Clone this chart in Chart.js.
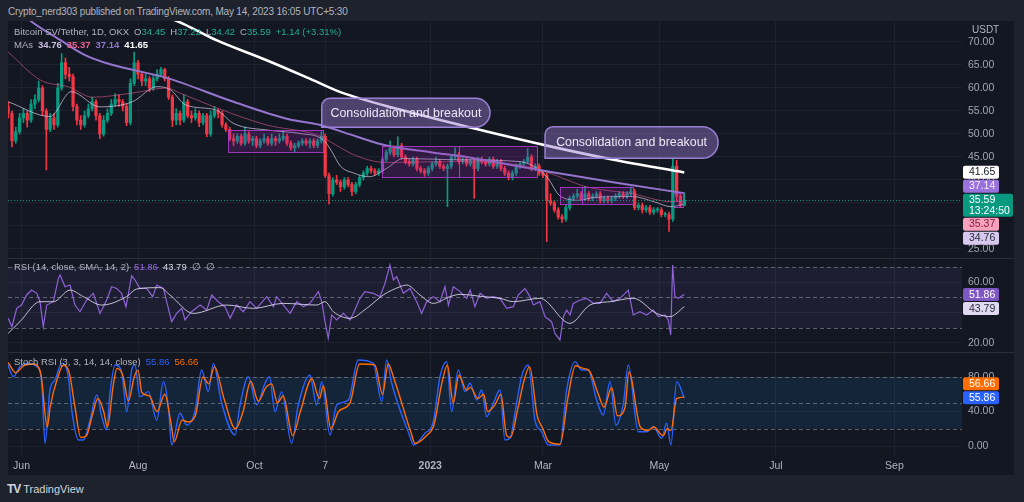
<!DOCTYPE html>
<html><head><meta charset="utf-8">
<script src="https://cdn.jsdelivr.net/npm/chart.js@4/dist/chart.umd.min.js"></script>
<style>
html,body{margin:0;padding:0;background:#1e222d;width:1024px;height:502px;overflow:hidden;font-family:"Liberation Sans",Arial,sans-serif;}
#frame{position:absolute;left:8px;top:21px;width:1006px;height:454px;background:#131722;}
canvas{position:absolute;left:8px;}
.txt{position:absolute;white-space:nowrap;font-size:9.5px;color:#b2b5be;line-height:12px;z-index:5;}
.g{color:#22ab94}.s{margin-left:5px}
.b{font-weight:bold}
</style></head><body>
<div id="frame"></div>
<canvas id="main" width="1006" height="237" style="top:21px"></canvas>
<canvas id="rsi" width="1006" height="94" style="top:258px"></canvas>
<canvas id="stoch" width="1006" height="123" style="top:352px"></canvas>

<div class="txt" style="left:8px;top:6px;font-size:10px;letter-spacing:-0.18px;">Crypto_nerd303 published on TradingView.com, May 14, 2023 16:05 UTC+5:30</div>
<div class="txt" style="left:14px;top:26px;">Bitcoin SV/Tether, 1D, OKX<span class="s">O</span><span class="g">34.45</span><span class="s">H</span><span class="g">37.22</span><span class="s">L</span><span class="g">34.42</span><span class="s">C</span><span class="g">35.59</span><span class="g s">+1.14 (+3.31%)</span></div>
<div class="txt" style="left:14px;top:39px;">MAs<span class="s b" style="color:#c9bfe0">34.76</span><span class="s b" style="color:#f06292">35.37</span><span class="s b" style="color:#9575cd">37.14</span><span class="s b" style="color:#ffffff">41.65</span></div>
<div class="txt" style="left:972px;top:24px;font-size:10px;">USDT</div>
<div class="txt" style="left:14px;top:261px;">RSI (14, close, SMA, 14, 2)<span class="s" style="color:#8e63d6">51.86</span><span class="s" style="color:#d1d4dc">43.79</span><span class="s">∅</span><span class="s">∅</span></div>
<div class="txt" style="left:14px;top:356px;">Stoch RSI (3, 3, 14, 14, close)<span class="s" style="color:#2962ff">55.86</span><span class="s" style="color:#ff6d00">56.66</span></div>
<div class="txt" style="left:7px;top:483px;color:#d1d4dc;font-size:11px;"><span style="font-weight:bold;font-size:12px;letter-spacing:-1px">TV</span> TradingView</div>

<script>
// ---------- DATA ----------
const candleStart = '2022-05-25';
const candleStepDays = 2;
const openP = [56.0,54.5,48.5,50.5,53.5,54.5,53.0,56.5,57.5,60.0, 55.0,51.0,53.5,52.0,60.0,65.5,63.0,62.5,56.0,53.0, 52.0,54.0,55.5,57.0,54.0,50.0,53.0,54.5,56.5,57.5, 57.0,56.0,52.5,61.0,65.5,63.0,61.5,62.0,60.0,62.0, 63.0,64.0,62.0,58.0,53.0,54.5,53.0,57.0,54.0,53.5, 54.5,52.5,54.0,50.0,54.0,55.0,54.5,52.0,51.0,49.0, 48.5,49.5,48.0,50.0,48.5,49.0,47.5,48.5,49.0,48.0, 49.0,48.5,49.0,49.5,48.0,47.0,47.5,48.0,48.5,48.0, 48.5,47.5,48.5,49.5,41.0,37.0,40.0,39.5,38.5,40.0, 39.0,37.5,39.0,40.5,41.5,42.5,42.0,41.5,42.0,44.5, 46.0,47.0,45.5,47.5,45.0,44.0,43.5,44.5,42.5,42.0, 41.5,42.5,43.5,44.0,43.0,42.5,43.0,45.0,45.5,44.0, 44.5,43.5,44.0,42.5,44.5,44.0,43.5,44.5,43.0,44.0, 42.5,41.5,40.5,41.5,43.0,43.5,44.0,45.0,42.5,43.0, 41.5,41.0,35.5,35.0,33.5,32.0,31.5,34.0,36.0,36.5, 37.0,36.0,37.0,36.0,36.5,37.0,35.5,36.0,35.5,36.0, 36.5,37.0,36.5,37.0,37.5,34.0,34.5,33.5,34.0,33.0, 33.5,33.5,32.5,32.5,31.5,43.0,36.5,34.45];
const highP = [57.0,55.0,51.5,54.5,55.5,55.0,57.5,58.5,61.5,60.5, 55.5,54.5,54.5,61.0,67.5,66.5,64.5,63.0,56.5,54.0, 55.0,56.5,58.0,57.5,54.5,54.0,55.5,57.5,58.8,58.5, 57.5,56.5,62.0,67.8,66.0,63.5,63.0,62.5,63.0,64.0, 64.5,64.3,62.5,58.5,55.5,55.0,58.5,57.5,55.0,55.5, 55.0,54.5,54.5,55.0,56.0,55.5,55.0,52.5,51.5,50.0, 50.0,50.0,51.5,50.5,49.5,49.5,49.0,50.0,49.5,50.0, 49.5,50.0,50.5,50.0,48.5,48.0,48.5,49.0,49.0,49.0, 49.0,49.0,50.5,50.0,41.5,40.5,41.0,40.0,40.5,40.5, 39.5,39.5,41.0,42.0,43.0,43.0,42.5,42.5,45.0,46.5, 48.5,47.5,49.4,48.0,45.5,44.5,45.0,45.0,43.0,42.5, 43.0,44.0,45.0,44.5,43.5,43.5,45.5,47.0,46.0,45.0, 45.0,44.5,44.5,45.0,45.0,44.5,45.0,45.0,44.5,44.5, 43.0,42.0,42.0,43.5,44.0,44.5,46.8,45.5,43.5,43.5, 42.0,41.5,37.0,35.5,34.0,32.5,34.5,36.5,37.0,38.0, 37.5,38.6,37.5,37.0,37.5,37.5,36.5,36.5,36.5,37.0, 37.5,37.5,37.5,38.5,38.0,35.0,35.0,34.5,34.5,34.0, 34.0,34.0,33.0,33.0,44.8,44.3,37.0,37.22];
const lowP = [53.5,47.2,48.0,50.0,52.5,51.5,52.5,55.5,57.0,54.0, 42.2,50.5,51.0,51.5,59.5,62.0,61.5,55.0,52.0,51.0, 51.5,53.5,55.0,53.0,49.0,49.5,52.5,54.0,56.0,56.0, 55.0,51.8,52.0,60.5,62.0,60.5,60.5,59.2,59.5,61.5, 62.5,61.5,57.5,51.6,52.0,52.0,52.5,53.5,52.5,53.0, 51.6,52.0,49.4,49.5,53.5,53.5,51.5,50.5,48.5,47.5, 48.0,47.5,47.5,48.0,47.5,47.0,47.0,48.0,47.5,47.5, 47.5,48.0,48.5,47.5,46.5,46.0,47.0,47.5,47.5,47.0, 47.0,47.0,48.0,40.5,34.8,36.5,39.0,37.5,38.0,38.5, 36.6,37.0,38.5,40.0,41.0,41.5,41.0,41.0,41.5,44.0, 45.5,45.0,45.0,44.5,43.5,43.0,43.0,42.0,41.5,40.8, 41.0,42.0,43.0,42.5,42.0,34.2,42.5,44.5,43.5,43.5, 43.0,43.0,36.0,42.0,43.5,43.0,43.0,42.5,42.5,42.0, 41.0,40.0,40.0,41.0,42.5,43.0,43.5,42.0,42.0,41.0, 40.5,26.6,34.5,33.0,31.5,30.8,31.0,33.5,35.5,36.0, 35.5,35.5,35.5,35.5,36.0,35.0,35.0,35.0,35.0,35.5, 36.0,36.0,36.0,36.5,33.5,33.5,32.8,33.0,32.5,32.5, 33.0,32.0,32.0,28.8,31.0,35.5,34.0,34.42];
const closeP = [54.5,48.5,50.5,53.5,54.5,53.0,56.5,57.5,60.0,55.0, 51.0,53.5,52.0,60.0,65.5,63.0,62.5,56.0,53.0,52.0, 54.0,55.5,57.0,54.0,50.0,53.0,54.5,56.5,57.5,57.0, 56.0,52.5,61.0,65.5,63.0,61.5,62.0,60.0,62.0,63.0, 64.0,62.0,58.0,53.0,54.5,53.0,57.0,54.0,53.5,54.5, 52.5,54.0,50.0,54.0,55.0,54.5,52.0,51.0,49.0,48.5, 49.5,48.0,50.0,48.5,49.0,47.5,48.5,49.0,48.0,49.0, 48.5,49.0,49.5,48.0,47.0,47.5,48.0,48.5,48.0,48.5, 47.5,48.5,49.5,41.0,37.0,40.0,39.5,38.5,40.0,39.0, 37.5,39.0,40.5,41.5,42.5,42.0,41.5,42.0,44.5,46.0, 47.0,45.5,47.5,45.0,44.0,43.5,44.5,42.5,42.0,41.5, 42.5,43.5,44.0,43.0,42.5,43.0,45.0,45.5,44.0,44.5, 43.5,44.0,42.5,44.5,44.0,43.5,44.5,43.0,44.0,42.5, 41.5,40.5,41.5,43.0,43.5,44.0,45.0,42.5,43.0,41.5, 41.0,35.5,35.0,33.5,32.0,31.5,34.0,36.0,36.5,37.0, 36.0,37.0,36.0,36.5,37.0,35.5,36.0,35.5,36.0,36.5, 37.0,36.5,37.0,37.5,34.0,34.5,33.5,34.0,33.0,33.5, 33.5,32.5,32.5,31.5,43.0,36.5,34.5,35.59];

// moving averages (days since 2022-06-01, value)
const ma20Days = [-7,15,26,41,58,71,78,86,102,111,130,146,158,162,167,174,182,191,200,226,261,275,282,292,300,320,331,340,347];
const ma20Vals = [57.0,53.8,59.2,55.9,57.0,60.3,59.6,56.3,55.2,52.3,50.8,50.1,48.7,46.5,43.0,41.5,40.7,42.5,44.7,44.4,44.0,40.7,36.5,35.6,36.2,36.4,35.3,34.2,34.76];
const ma50Days = [-7,10,25,37,58,76,83,102,128,156,165,175,191,226,261,275,296,320,340,347];
const ma50Vals = [67.8,61.7,60.2,58.0,58.9,60.0,58.9,55.7,52.0,49.6,47.5,45.3,43.8,44.0,43.2,41.7,38.5,37.0,35.3,35.37];
const ma100Days = [-7,2,20,33,46,76,111,140,156,175,191,215,236,260,278,313,347];
const ma100Vals = [79.5,75.5,70.5,67.2,65.2,62.2,57.0,53.2,52.0,49.5,47.5,46.0,44.8,43.0,41.7,39.3,37.14];
const ma200Days = [70,85,102,128,150,167,198,236,278,310,347];
const ma200Vals = [76.5,73.9,70.4,66.1,62.2,59.1,55.3,51.3,47.2,44.4,41.65];

// RSI
const rsiDays = [-7,-5,-2.5,0,2.7,5.3,8,9.7,11.4,13.2, 16.7,19.3,20.2,22.8,25.4,28,30.6,34.1,37.6,41.1, 44.6,47.2,49.8,52.4,54.7,57.7,59.4,62,65.5,68.7, 70.8,74.3,76,78.6,81.2,83.9,85.6,89,93.5,97, 99.6,103,106.5,109.2,112.6,116.1,119.6,123.1,128.4,131.9, 133.6,137.1,140.6,144.1,147.6,151,155.4,157.2,158.9,160.6, 162.4,165,168.5,172,173.7,177.2,179.8,184.2,187.7,190.3, 192.9,194.7,196.4,199.9,203.4,206.9,209.5,212.1,215.6,219.1, 221.7,223.5,226.1,229.6,233.1,234.9,237.4,240.1,243.5,247, 250.5,254,257.5,260.1,263.6,266.2,268,271.4,274.1,277.5, 279.3,281.9,283.7,285.4,287.2,288.9,292.4,295.9,299.4,302.9, 306.3,309.8,313.3,317.7,320.3,323.8,327.3,330.8,333.4,336.9, 338.6,339.9,340.9,342.1,343.9,347];
const rsiVals = [36.2,30.7,42.7,44.9,51.5,54.7,52.6,47.1,30.7,44.9, 47.1,62.4,64.6,56.9,58.0,44.9,40.5,48.2,52.6,39.4, 48.2,56.9,55.8,52.6,43.8,64.1,61.3,55.8,55.8,50.4, 58.0,55.8,47.1,34.0,39.4,42.7,35.1,40.5,44.9,41.6, 51.5,47.1,43.8,36.2,44.9,40.5,47.1,42.7,50.4,43.8, 50.4,44.9,39.4,47.1,43.8,46.0,53.7,47.1,34.0,23.1, 38.4,35.1,39.4,35.1,39.4,49.3,53.7,52.6,50.4,59.1, 71.1,61.3,63.5,52.6,55.8,47.1,39.4,47.1,50.4,47.1, 56.9,44.9,56.9,53.7,49.3,54.7,43.8,52.6,49.3,50.4, 49.3,42.7,43.8,51.5,55.8,50.4,44.9,47.1,37.3,34.0, 26.3,22.0,37.3,41.6,38.4,46.0,48.2,49.3,46.0,46.0, 52.6,47.1,49.3,54.7,38.4,40.5,38.4,41.6,37.3,38.4, 35.1,25.2,71.1,50.4,49.3,51.86];
const rsiSmaDays = [-7,-0.8,9.7,16.7,25.4,32.4,42,55,60.3,72.5, 77.7,90,107.4,121.4,137,154.5,158.9,163.3,172,180.7, 189.4,198.2,201.7,208.6,215.6,224.3,229.6,241.8,250.5,257.5, 271.4,287.2,297.6,308.1,320.3,332.5,339.5,347];
const rsiSmaVals = [26.3,34.0,47.1,47.1,54.7,50.4,44.9,50.4,55.4,56.3, 51.5,39.4,44.9,42.7,46.0,44.9,47.1,40.5,36.2,42.7, 51.5,56.9,58.0,51.5,46.0,50.4,51.9,50.4,49.3,47.1, 49.3,32.9,44.9,47.1,49.3,39.4,37.3,43.79];

// Stoch RSI
const kDays = [-7.4,-4.3,-0.8,2.7,8,10.6,12.3,14.9,17.5,21, 24.5,26.3,29.8,32.4,35.9,39.4,42,44.6,46.3,49, 52.4,55.1,57.7,59.4,62,66.4,70.8,74.3,76.9,78.6, 83,86.5,90.8,94.3,97.8,100.4,104.8,111.8,114.4,118.8, 123.1,127.5,129.8,132.7,136.2,141.4,144.9,151,154.5,157.2, 161.5,165,171.1,176.3,184.2,188.6,191.2,193.8,203.4,205.2, 211.2,215.6,219.1,222.6,225.2,228.7,232.2,234.8,238.3,240.9, 243.5,247,250.5,253.1,255.7,259.2,261.8,265.3,268.8,272.3, 275.8,281.9,285.4,289.8,293.3,296.7,301.1,304.6,308.1,311.2, 315.1,317.7,322.9,327.3,330.8,335.1,337.8,340,343,347];
const kVals = [95.8,80.4,92.0,95.8,92.0,72.7,3.1,64.9,76.5,95.8, 80.4,41.7,7.0,7.0,30.1,59.1,34.0,18.5,61.0,93.9, 86.2,39.8,88.1,93.9,57.2,63.0,30.1,74.6,45.6,1.2, 37.9,24.3,39.8,88.1,63.0,95.8,49.5,12.7,47.5,80.4, 47.5,72.7,80.4,39.8,63.0,3.1,47.5,82.3,47.5,74.6, 12.7,47.5,53.3,99.7,95.8,51.4,99.7,72.7,10.8,1.2, 14.7,28.2,80.4,97.8,39.8,88.1,63.0,72.7,53.3,64.9, 34.0,49.5,64.9,7.0,8.9,49.5,80.4,93.9,30.1,16.6, 1.2,1.2,64.9,97.8,88.1,88.1,53.3,35.9,74.6,24.3, 49.5,93.9,16.6,16.6,22.4,8.9,26.3,1.2,74.6,55.86];
const dDays = [-7,-3,1,6,10,13.5,15,19,22,25, 28,31,34,37,40,43,45,48,50,53, 56,59,61,63,67,71,75,78,80,84, 87,91,95,98,101,106,112,116,120,124, 128,131,134,137,142,146,152,156,158,162, 166,172,177,185,189,192,195,204,206,212, 216,220,223,226,229,233,235,239,242,244, 248,251,254,256,260,263,266,270,273,276, 282,286,290,294,297,302,305,309,312,316, 318,324,328,331,336,338,340,343,347];
const dVals = [97,85,93,95,85,22,45,80,94,85, 45,10,12,35,55,40,22,70,90,82, 52,80,88,62,58,40,60,30,5,30, 28,35,80,72,92,55,20,40,75,52, 68,72,50,58,12,40,78,55,70,20, 40,50,95,94,60,95,78,15,3,12, 25,72,94,50,82,65,68,55,60,40, 48,60,12,10,45,75,92,35,20,5, 2,55,93,90,88,60,45,68,35,45, 86,22,18,22,12,20,18,55,56.66];

// time axis
const tickDates = ['2022-06-01','2022-08-01','2022-10-01','2022-11-07','2023-01-01','2023-03-01','2023-05-01','2023-07-01','2023-09-01'];
const tickLabels = ['Jun','Aug','Oct','7','2023','Mar','May','Jul','Sep'];
const mainTicks = [25,30,35,40,45,50,55,60,65,70];
const rsiTicks = [20,40,60];
const stochTicks = [0,40,80];

// drawings
const consolidationBoxes = [
  [108.1,157.8,50.87,46.09],[188.7,229.0,47.4,40.65],[229.0,269.9,47.4,40.65],
  [282.0,293.5,38.5,34.8],[293.5,320.4,38.5,34.8],[341.2,346.5,37.2,34.2]
];
const callouts = [
  {text:'Consolidation and breakout', d0:157.2, d1:245.3, p0:57.76, p1:51.46},
  {text:'Consolidation and breakout', d0:274.1, d1:364.7, p0:51.59, p1:44.72}
];

// ---------- RENDER ----------
const FONT = '"Liberation Sans", Arial, sans-serif';
const GRID = '#1e2230';
const UP = '#089981', DOWN = '#f23645';
Chart.defaults.font.family = FONT;
Chart.defaults.font.size = 10.5;

const DAY0 = Date.UTC(2022,5,1);
function dayOf(s){ const p = s.split('-').map(Number); return (Date.UTC(p[0],p[1]-1,p[2]) - DAY0)/86400000; }
const tickDays = tickDates.map(dayOf);
const startDay = dayOf(candleStart);
const candleX = openP.map((_, i) => startDay + i*candleStepDays);
const lastClose = closeP[closeP.length-1];

const X_MIN = -7.07, X_MAX = 492.4;

function xScale(show, h){
  return {type:'linear', min:X_MIN, max:X_MAX, offset:false,
    afterBuildTicks: s => { s.ticks = tickDays.map(v => ({value:v})); },
    afterFit: s => { s.height = h; s.paddingLeft = 0; s.paddingRight = 0; },
    grid:{color:GRID, drawTicks:false, offset:false},
    border:{display:false},
    ticks:{display:show, autoSkip:false, maxRotation:0, padding:5, color:'#b2b5be',
      font: c => ({family:FONT, size:10.5, weight: tickLabels[c.index]==='2023' ? 'bold' : 'normal'}),
      callback: (v,i) => tickLabels[i]}
  };
}
function yScale(min, max, ticks){
  return {position:'right', min, max,
    afterBuildTicks: s => { s.ticks = ticks.map(v => ({value:v})); },
    afterFit: s => { s.width = 52; s.paddingTop = 0; s.paddingBottom = 0; },
    grid:{color:GRID, drawTicks:false}, border:{display:false},
    ticks:{padding:6, color:'#a3a6af', font:{family:FONT, size:10.5}, callback: v => Number(v).toFixed(2)}
  };
}
function lineDS(days, vals, color, width, order, extra){
  return Object.assign({type:'line', data: days.map((d,i)=>({x:d, y:vals[i]})), borderColor:color,
    borderWidth:width, pointRadius:0, fill:false, order, cubicInterpolationMode:'monotone'}, extra || {});
}
function tagPlugin(id, tags, anchor){
  return {id, afterDraw(chart){
    const ctx = chart.ctx, ys = chart.scales.y, left = chart.chartArea.right + 1;
    const boxes = tags.map(t => { const p = ys.getPixelForValue(t.v); return {top:p-6.5, bot:p+6.5+(t.sub?10:0)}; });
    for (let i = anchor-1; i >= 0; i--) { const lim = boxes[i+1].top - 1; if (boxes[i].bot > lim) { const h = boxes[i].bot-boxes[i].top; boxes[i].bot = lim; boxes[i].top = lim-h; } }
    for (let i = anchor+1; i < tags.length; i++) { const lim = boxes[i-1].bot + 1; if (boxes[i].top < lim) { const h = boxes[i].bot-boxes[i].top; boxes[i].top = lim; boxes[i].bot = lim+h; } }
    ctx.save();
    tags.forEach((t,i) => {
      const b = boxes[i], W = t.sub ? 50 : 36;
      ctx.fillStyle = t.bg; ctx.beginPath(); ctx.roundRect(left, b.top, W, b.bot-b.top, 2); ctx.fill();
      ctx.fillStyle = t.fg; ctx.font = '10.5px ' + FONT; ctx.textBaseline = 'middle'; ctx.textAlign = 'left';
      ctx.fillText(t.v.toFixed(2), left+6, b.top+6.8);
      if (t.sub) ctx.fillText(t.sub, left+6, b.top+17.5);
    });
    ctx.restore();
  }};
}
const separator = {id:'sep', afterDraw(chart){
  const ctx = chart.ctx; ctx.save(); ctx.strokeStyle = '#2a2e39'; ctx.lineWidth = 1;
  ctx.beginPath(); ctx.moveTo(0, 0.5); ctx.lineTo(chart.width, 0.5); ctx.stroke(); ctx.restore();
}};
function bandPlugin(id, lo, hi, dashes, fill){
  return {id, beforeDatasetsDraw(chart){
    const ctx = chart.ctx, a = chart.chartArea, ys = chart.scales.y;
    ctx.save();
    ctx.fillStyle = fill;
    const yt = ys.getPixelForValue(hi), yb = ys.getPixelForValue(lo);
    ctx.fillRect(a.left, yt, a.right-a.left, yb-yt);
    ctx.strokeStyle = 'rgba(120,123,134,0.75)'; ctx.lineWidth = 1; ctx.setLineDash([4,3]);
    dashes.forEach(v => { const y = Math.round(ys.getPixelForValue(v)) + 0.5; ctx.beginPath(); ctx.moveTo(a.left, y); ctx.lineTo(a.right, y); ctx.stroke(); });
    ctx.restore();
  }};
}
const mainOverlay = {id:'mainOverlay', afterDatasetsDraw(chart){
  const ctx = chart.ctx, a = chart.chartArea, xs = chart.scales.x, ys = chart.scales.y;
  ctx.save();
  ctx.beginPath(); ctx.rect(a.left, a.top, a.right-a.left, a.bottom-a.top); ctx.clip();
  consolidationBoxes.forEach(b => {
    const x0 = xs.getPixelForValue(b[0]), x1 = xs.getPixelForValue(b[1]);
    const y0 = ys.getPixelForValue(b[2]), y1 = ys.getPixelForValue(b[3]);
    ctx.fillStyle = 'rgba(156,39,176,0.22)'; ctx.fillRect(x0, y0, x1-x0, y1-y0);
    ctx.strokeStyle = 'rgba(170,60,200,0.9)'; ctx.lineWidth = 1; ctx.strokeRect(Math.round(x0)+0.5, Math.round(y0)+0.5, Math.round(x1-x0), Math.round(y1-y0));
  });
  const py = Math.round(ys.getPixelForValue(lastClose)) + 0.5;
  ctx.strokeStyle = UP; ctx.setLineDash([1,2]); ctx.lineWidth = 1;
  ctx.beginPath(); ctx.moveTo(a.left, py); ctx.lineTo(a.right, py); ctx.stroke(); ctx.setLineDash([]);
  callouts.forEach(c => {
    const x0 = xs.getPixelForValue(c.d0), x1 = xs.getPixelForValue(c.d1);
    const y0 = ys.getPixelForValue(c.p0), y1 = ys.getPixelForValue(c.p1);
    const h = y1 - y0, r = h/2, r2 = 8;
    ctx.beginPath();
    ctx.moveTo(x0, y1);
    ctx.lineTo(x0, y0 + r2);
    ctx.arcTo(x0, y0, x0 + r2, y0, r2);
    ctx.lineTo(x1 - r, y0);
    ctx.arcTo(x1, y0, x1, y0 + r, r);
    ctx.arcTo(x1, y1, x1 - r, y1, r);
    ctx.lineTo(x0, y1);
    ctx.closePath();
    ctx.fillStyle = 'rgba(149,117,205,0.45)'; ctx.fill();
    ctx.strokeStyle = '#9a80d4'; ctx.lineWidth = 1.5; ctx.stroke();
    ctx.fillStyle = '#ece8f5'; ctx.font = '12.4px ' + FONT; ctx.textAlign = 'center'; ctx.textBaseline = 'middle';
    ctx.fillText(c.text, (x0 + x1)/2, (y0 + y1)/2 + 0.5);
  });
  ctx.restore();
}};

const isUp = i => closeP[i] >= openP[i];
const candleColor = c => isUp(c.dataIndex) ? UP : DOWN;

new Chart(document.getElementById('main'), {
  type:'bar',
  data:{datasets:[
    lineDS(ma200Days, ma200Vals, '#ffffff', 2.6, 0),
    lineDS(ma100Days, ma100Vals, '#9575cd', 2, 1),
    lineDS(ma50Days, ma50Vals, 'rgba(240,98,146,0.55)', 1, 2),
    lineDS(ma20Days, ma20Vals, 'rgba(215,205,235,0.7)', 1, 3),
    {type:'bar', data: candleX.map((x,i)=>({x, y:[openP[i], closeP[i]]})), backgroundColor:candleColor,
      barThickness:2.6, minBarLength:1, grouped:false, order:4},
    {type:'bar', data: candleX.map((x,i)=>({x, y:[lowP[i], highP[i]]})), backgroundColor:candleColor,
      barThickness:1, minBarLength:1, grouped:false, order:5}
  ]},
  options:{responsive:false, animation:false, devicePixelRatio:1,
    layout:{padding:0, autoPadding:false},
    plugins:{legend:{display:false}, tooltip:{enabled:false}},
    scales:{x:xScale(false,0), y:yScale(23.043, 74.565, mainTicks)}},
  plugins:[mainOverlay, tagPlugin('mainTags', [
    {v:41.65, bg:'#ffffff', fg:'#131722'},
    {v:37.14, bg:'#9b72dc', fg:'#f3effa'},
    {v:lastClose, bg:UP, fg:'#ffffff', sub:'13:24:50'},
    {v:35.37, bg:'#f7a1bd', fg:'#7a1c3a'},
    {v:34.76, bg:'#d6c8ee', fg:'#2a2e39'}
  ], 2)]
});

new Chart(document.getElementById('rsi'), {
  type:'line',
  data:{datasets:[
    lineDS(rsiSmaDays, rsiSmaVals, 'rgba(225,220,238,0.85)', 1, 0),
    lineDS(rsiDays, rsiVals, '#8e63d6', 1.2, 1, {cubicInterpolationMode:'default', tension:0})
  ]},
  options:{responsive:false, animation:false, devicePixelRatio:1,
    layout:{padding:0, autoPadding:false},
    plugins:{legend:{display:false}, tooltip:{enabled:false}},
    scales:{x:xScale(false,0), y:yScale(14.098, 75.74, rsiTicks)}},
  plugins:[bandPlugin('rsiBand', 30, 70, [70,50,30], 'rgba(126,87,194,0.11)'), separator,
    tagPlugin('rsiTags', [{v:51.86, bg:'#7e57c2', fg:'#ffffff'}, {v:43.79, bg:'#e1d9f2', fg:'#2a2e39'}], 0)]
});

new Chart(document.getElementById('stoch'), {
  type:'line',
  data:{datasets:[
    lineDS(dDays, dVals, '#ff6d00', 1.4, 0),
    lineDS(kDays, kVals, '#2962ff', 1.4, 1)
  ]},
  options:{responsive:false, animation:false, devicePixelRatio:1,
    layout:{padding:0, autoPadding:false},
    plugins:{legend:{display:false}, tooltip:{enabled:false}},
    scales:{x:xScale(true,20), y:yScale(-10.435, 108.99, stochTicks)}},
  plugins:[bandPlugin('stochBand', 20, 80, [80,50,20], 'rgba(33,150,243,0.11)'), separator,
    tagPlugin('stochTags', [{v:56.66, bg:'#ff6d00', fg:'#ffffff'}, {v:55.86, bg:'#2962ff', fg:'#ffffff'}], 1)]
});
</script>
</body></html>
